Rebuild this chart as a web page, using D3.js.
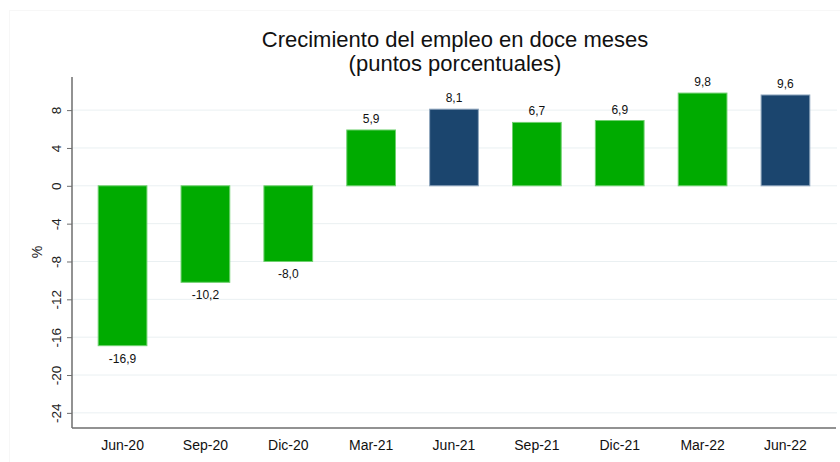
<!DOCTYPE html>
<html><head><meta charset="utf-8">
<script src="https://cdn.jsdelivr.net/npm/d3@7"></script>
<style>body{margin:0;background:#fff;}svg{display:block;font-family:Arial,"Liberation Sans",sans-serif;}</style>
</head><body>
<svg id="c" width="840" height="462"></svg>
<script>
const categories = ["Jun-20","Sep-20","Dic-20","Mar-21","Jun-21","Sep-21","Dic-21","Mar-22","Jun-22"];
const values = [-16.9,-10.2,-8.0,5.9,8.1,6.7,6.9,9.8,9.6];
const highlight = [false,false,false,false,true,false,false,false,true];
const labels = ["-16,9","-10,2","-8,0","5,9","8,1","6,7","6,9","9,8","9,6"];
const yTicks = [8,4,0,-4,-8,-12,-16,-20,-24];

const svg = d3.select("#c");
svg.append("rect").attr("x",9.5).attr("y",10.5).attr("width",840).attr("height",460)
  .attr("fill","none").attr("stroke","#f7f7f7");

const x = d3.scaleBand().domain(categories).range([72,836]).paddingInner(0.4).paddingOuter(0.31);
const y = d3.scaleLinear().domain([-25.6,11.5]).range([428,77]);

// grid
svg.append("g").selectAll("line").data(yTicks).join("line")
  .attr("x1",72).attr("x2",837).attr("y1",d=>y(d)).attr("y2",d=>y(d))
  .attr("stroke","#eaf0f2").attr("stroke-width",1);

// bars
svg.append("g").selectAll("rect").data(values).join("rect")
  .attr("x",(d,i)=>x(categories[i])+0.5)
  .attr("width",x.bandwidth()-1)
  .attr("y",d=>y(Math.max(0,d)))
  .attr("height",d=>Math.abs(y(d)-y(0)))
  .attr("fill",(d,i)=>highlight[i]?"#1b456e":"#00ab00")
  .attr("stroke",(d,i)=>highlight[i]?"#8fa6bd":"#6fd06f")
  .attr("stroke-width",1);

// value labels
svg.append("g").selectAll("text").data(values).join("text")
  .attr("x",(d,i)=>x(categories[i])+x.bandwidth()/2)
  .attr("y",d=> d>=0 ? y(d)-7 : y(d)+17)
  .attr("text-anchor","middle").attr("font-size",12).attr("fill","#111")
  .text((d,i)=>labels[i]);

// y axis
const ya = d3.axisLeft(y).tickValues(yTicks).tickSize(5).tickFormat(d=>d);
const gy = svg.append("g").attr("transform","translate(72,0)").call(ya);
gy.select(".domain").attr("d","M0,77V428").attr("stroke","#6e6e6e").attr("stroke-width",1.5);
gy.selectAll(".tick line").attr("stroke","#6e6e6e");
gy.selectAll(".tick text").attr("font-size",13.5).attr("fill","#222")
  .attr("x",0).attr("y",0).attr("dy",null)
  .attr("text-anchor","middle")
  .attr("transform","translate(-11,0) rotate(-90)")
  .attr("font-family","Arial,'Liberation Sans',sans-serif");

// x axis
const xa = d3.axisBottom(x).tickSize(0).tickPadding(12);
const gx = svg.append("g").attr("transform","translate(0,428)").call(xa);
gx.select(".domain").attr("d","M72,0H836").attr("stroke","#6e6e6e").attr("stroke-width",1.5);
gx.selectAll(".tick text").attr("font-size",14).attr("fill","#111")
  .attr("font-family","Arial,'Liberation Sans',sans-serif");

// y title
svg.append("text").attr("transform","translate(42,252) rotate(-90)")
  .attr("text-anchor","middle").attr("font-size",14).attr("fill","#222").text("%");

// title
svg.append("text").attr("x",455).attr("y",47).attr("text-anchor","middle")
  .attr("font-size",22).attr("fill","#111").text("Crecimiento del empleo en doce meses");
svg.append("text").attr("x",455).attr("y",71).attr("text-anchor","middle")
  .attr("font-size",22).attr("fill","#111").text("(puntos porcentuales)");
</script>
</body></html>
